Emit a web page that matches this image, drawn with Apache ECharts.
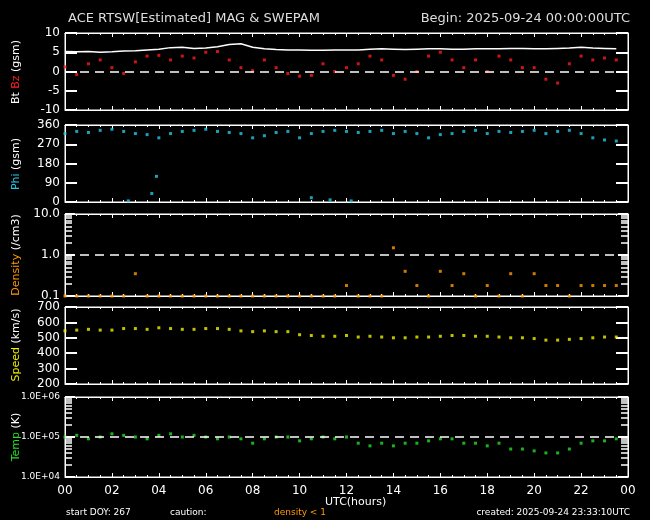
<!DOCTYPE html>
<html><head><meta charset="utf-8">
<script src="https://cdn.jsdelivr.net/npm/echarts@6/dist/echarts.min.js"></script>
<style>html,body{margin:0;background:#000}#c{width:650px;height:520px}</style>
</head><body><div id="c"></div>
<script>
const hours=[0,0.5,1,1.5,2,2.5,3,3.5,4,4.5,5,5.5,6,6.5,7,7.5,8,8.5,9,9.5,10,10.5,11,11.5,12,12.5,13,13.5,14,14.5,15,15.5,16,16.5,17,17.5,18,18.5,19,19.5,20,20.5,21,21.5,22,22.5,23,23.5];
const bt=[5.2,5.1,5.2,5.0,5.1,5.3,5.4,5.6,5.8,6.2,6.3,6.0,6.1,6.4,7.0,7.2,6.3,5.9,5.7,5.6,5.6,5.5,5.5,5.6,5.6,5.6,5.8,5.9,5.8,5.7,5.8,5.9,5.9,5.8,5.8,5.9,5.9,5.9,6.0,6.0,5.9,5.9,6.0,6.1,6.3,6.1,6.0,5.9];
const bz=[1.2,-0.8,2.0,3.0,1.0,-0.5,2.5,4.0,4.2,3.0,4.0,3.5,5.0,5.2,3.0,1.0,0.2,3.0,1.0,-0.5,-1.2,-1.0,2.0,0.0,1.0,2.0,4.0,3.0,-1.0,-2.0,0.0,4.0,5.0,3.0,1.0,3.0,0.0,4.0,3.0,1.0,1.0,-2.0,-3.0,2.0,4.0,3.0,3.5,3.0];
const phi=[320,330,325,335,340,330,320,315,300,320,330,335,340,330,325,320,300,310,325,330,300,320,330,335,330,325,330,335,320,330,320,300,315,320,330,335,320,330,325,330,335,320,330,335,320,300,290,285];
const phiLow=[[2.7,5],[3.7,40],[3.9,120],[10.5,20],[11.3,10],[12.2,5]];
const dens=[0.1,0.1,0.1,0.1,0.1,0.1,0.35,0.1,0.1,0.1,0.1,0.1,0.1,0.1,0.1,0.1,0.1,0.1,0.1,0.1,0.1,0.1,0.1,0.1,0.18,0.1,0.1,0.1,1.5,0.4,0.18,0.1,0.4,0.18,0.35,0.1,0.18,0.1,0.35,0.1,0.35,0.18,0.18,0.1,0.18,0.18,0.18,0.18];
const speed=[545,550,555,550,550,560,560,555,565,560,555,555,560,560,555,545,540,545,540,540,520,515,510,510,515,505,510,505,500,500,505,505,510,515,515,510,510,505,500,500,495,485,485,490,495,500,505,505];
const temp=[1.0e5,1.1e5,9e4,1.0e5,1.2e5,1.1e5,1.0e5,9e4,1.1e5,1.2e5,1.0e5,1.1e5,1.0e5,9e4,1.0e5,9e4,7e4,9e4,1.0e5,1.0e5,8e4,9e4,1.0e5,9e4,1.0e5,7e4,6e4,7e4,6e4,7e4,7e4,8e4,9e4,9e4,7e4,7e4,6e4,7e4,5e4,5e4,4.5e4,4e4,4e4,5e4,7e4,8e4,8e4,9e4];
const xTicks=['00','02','04','06','08','10','12','14','16','18','20','22','00'];

const F='DejaVu Sans';
const tops=[33,125,214,307,397], hs=[77,77,82,77,80];
const grids=tops.map((t,i)=>({left:65,width:563,top:t,height:hs[i],show:true,borderColor:'#fff',borderWidth:1,backgroundColor:'transparent'}));
const xAxis=[],yAxis=[];
grids.forEach((g,i)=>{
  ['bottom','top'].forEach(p=>{
  xAxis.push({gridIndex:i,type:'value',position:p,min:0,max:24,interval:2,
    axisLine:{show:true,onZero:false,lineStyle:{color:'#fff'}},axisTick:{show:true,inside:true,length:4,lineStyle:{color:'#fff'}},
    minorTick:{show:true,splitNumber:4,length:2,lineStyle:{color:'#fff'}},
    splitLine:{show:false},axisLabel:{show:i===4&&p==='bottom',color:'#fff',fontFamily:F,fontSize:12,margin:8,formatter:v=>xTicks[v/2]}});
  });
});
const ycfg=[
 {type:'value',min:-10,max:10,interval:5},
 {type:'value',min:0,max:360,interval:90},
 {type:'log',min:0.1,max:10,formatter:v=>v.toFixed(1)},
 {type:'value',min:200,max:700,interval:100},
 {type:'log',min:1e4,max:1e6,formatter:v=>'1.0E+0'+Math.round(Math.log10(v))}
];
ycfg.forEach((c,i)=>{
  [false,true].forEach(r=>{
    yAxis.push(Object.assign({gridIndex:i,position:r?'right':'left',
      axisLine:{show:true,onZero:false,lineStyle:{color:'#fff'}},
      axisTick:{show:true,inside:true,length:c.type==='log'?10:12,lineStyle:{color:'#fff',width:2}},
      minorTick:{show:c.type==='log',splitNumber:9,length:7,lineStyle:{color:'#fff',width:1.5}},
      splitLine:{show:false},
      axisLabel:{show:!r,color:'#fff',fontFamily:F,fontSize:c.type==='log'&&i===4?9:12,margin:5,formatter:c.formatter}},
      {type:c.type,min:c.min,max:c.max},c.interval?{interval:c.interval}:{}));
  });
});
const z=a=>a.map((v,k)=>[hours[k],v]);
const sc=(gi,data,color,extra)=>Object.assign({type:'scatter',xAxisIndex:gi*2,yAxisIndex:gi*2,data,symbol:'rect',symbolSize:3,
  itemStyle:{color},silent:true},extra||{});
const dash=v=>({silent:true,symbol:'none',label:{show:false},lineStyle:{color:'#fff',type:[9,6],width:1.5},data:[{yAxis:v}]});
const series=[
 sc(0,z(bz),'#ff1a1a',{markLine:dash(0)}),
 {type:'line',xAxisIndex:0,yAxisIndex:0,data:z(bt),showSymbol:false,lineStyle:{color:'#fff',width:1.5},silent:true},
 sc(1,z(phi),'#22c8e8'),
 sc(1,phiLow,'#22c8e8'),
 sc(2,z(dens),'#ff9900',{markLine:dash(1)}),
 sc(3,z(speed),'#f0f000'),
 sc(4,z(temp),'#22e022',{markLine:dash(1e5)})
];
const vt=(x,y,rich,txt)=>({type:'text',x,y,rotation:Math.PI/2,style:{text:txt,rich,fontFamily:F,fontSize:11,fill:'#fff',align:'center',verticalAlign:'middle'}});
const graphic=[
 {type:'text',left:68,top:12,style:{text:'ACE RTSW[Estimated] MAG & SWEPAM',fill:'#ddd',fontFamily:F,fontSize:13}},
 {type:'text',right:20,top:12,style:{text:'Begin: 2025-09-24 00:00:00UTC',fill:'#ddd',fontFamily:F,fontSize:13}},
 vt(16,72,{w:{fill:'#fff'},r:{fill:'#ff2020'}},'{w|Bt} {r|Bz} {w|(gsm)}'),
 vt(16,164,{c:{fill:'#22c8e8'},w:{fill:'#fff'}},'{c|Phi} {w|(gsm)}'),
 vt(16,255,{o:{fill:'#ff9900'},w:{fill:'#fff'}},'{o|Density} {w|(/cm3)}'),
 vt(16,345,{y:{fill:'#f0f000'},w:{fill:'#fff'}},'{y|Speed} {w|(km/s)}'),
 vt(16,437,{g:{fill:'#22e022'},w:{fill:'#fff'}},'{g|Temp} {w|(K)}'),
 {type:'text',left:325,top:497,style:{text:'UTC(hours)',fill:'#fff',fontFamily:F,fontSize:11,align:'center'}},
 {type:'text',left:66,top:508,style:{text:'start DOY: 267',fill:'#fff',fontFamily:F,fontSize:9}},
 {type:'text',left:170,top:508,style:{text:'caution:',fill:'#fff',fontFamily:F,fontSize:9}},
 {type:'text',left:274,top:508,style:{text:'density < 1',fill:'#ff9900',fontFamily:F,fontSize:9}},
 {type:'text',right:20,top:508,style:{text:'created: 2025-09-24 23:33:10UTC',fill:'#fff',fontFamily:F,fontSize:9}}
];
const ch=echarts.init(document.getElementById('c'));
ch.setOption({backgroundColor:'#000',animation:false,grid:grids,xAxis,yAxis,series,graphic});
</script></body></html>
